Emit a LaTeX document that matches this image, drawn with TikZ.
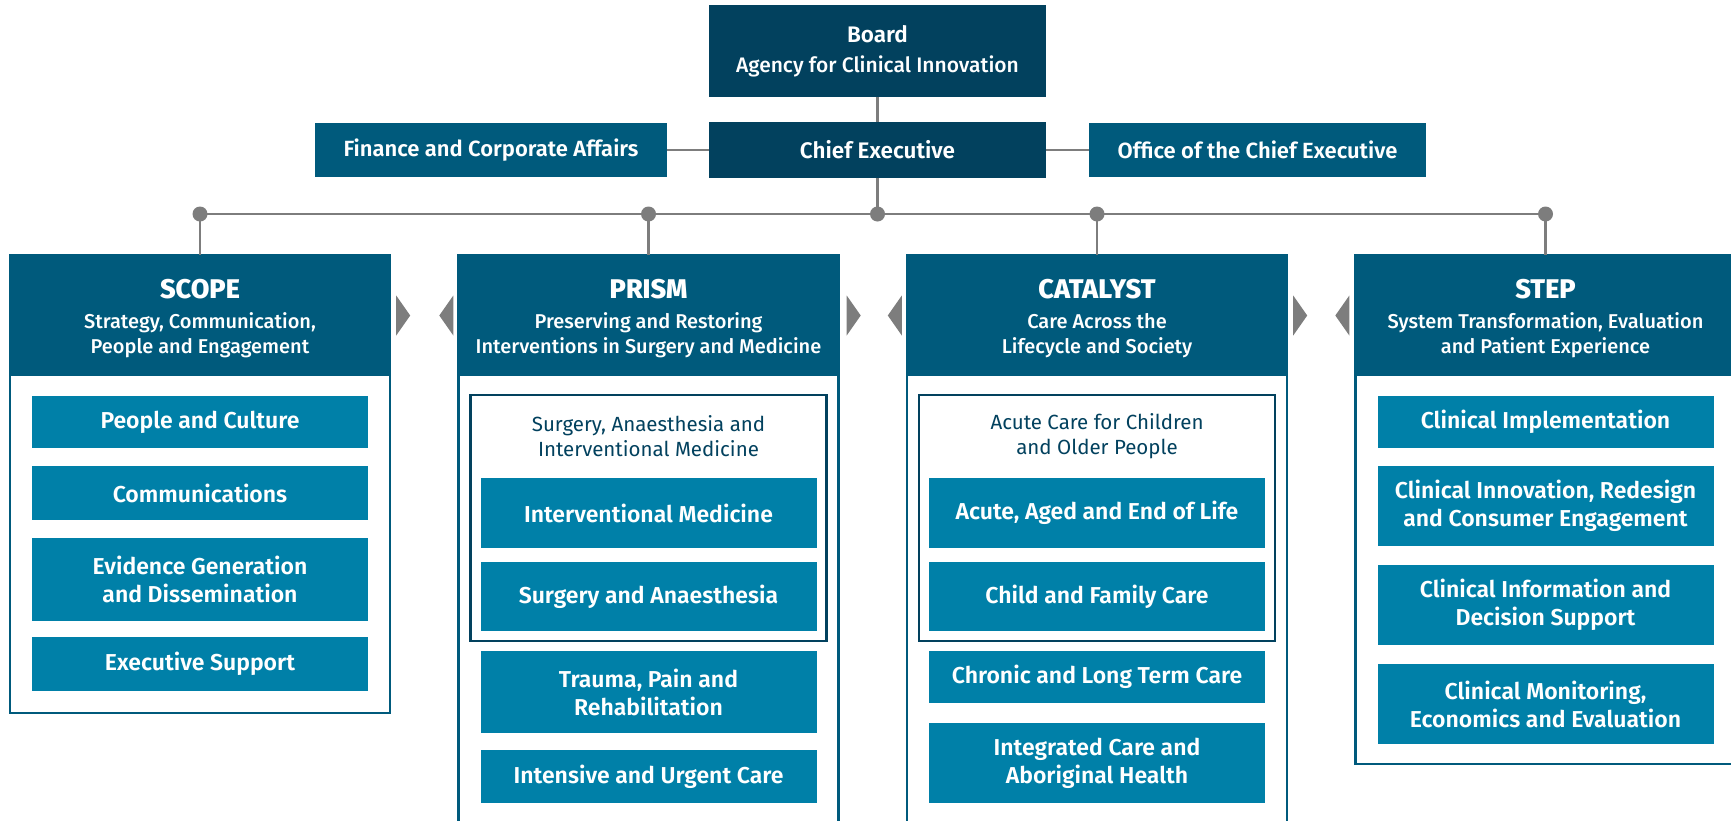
\documentclass[tikz,border=0pt]{standalone}
\usepackage{fontspec}
\setmainfont{Fira Sans}[BoldFont={Fira Sans SemiBold}]
\newfontfamily\medfont{Fira Sans Medium}
\usetikzlibrary{calc}

\definecolor{acinavy}{HTML}{02415E}
\definecolor{acihead}{HTML}{005A7C}
\definecolor{aciunit}{HTML}{0080A8}
\definecolor{acigrey}{HTML}{7D7D7D}

\begin{document}
\begin{tikzpicture}[x=1pt, y=-1pt,
  exec/.style={fill=acinavy, text=white, align=center, inner sep=0pt, minimum width=337},
  side/.style={fill=acihead, text=white, align=center, inner sep=0pt, minimum height=54,
    font=\bfseries\fontsize{22}{26}\selectfont},
  head/.style={fill=acihead, text=white, align=center, inner sep=0pt, minimum width=380,
    minimum height=121, font=\medfont\fontsize{20}{24.5}\selectfont},
  unit/.style={fill=aciunit, text=white, align=center, inner sep=0pt, minimum width=336,
    font=\bfseries\fontsize{23}{28}\selectfont},
  group/.style={draw=acinavy, line width=2.5pt, inner sep=0pt, minimum width=356, minimum height=246},
  gtitle/.style={text=acinavy, align=center, inner sep=0pt, font=\fontsize{20.5}{25}\selectfont},
  frame/.style={draw=acihead, line width=2.5pt},
  line/.style={draw=acigrey, line width=2.5pt},
  tri/.style={fill=acigrey}]
\useasboundingbox (0,0) rectangle (1731,820);
\clip (0,0) rectangle (1731,820);

\node[exec, minimum height=92] (board) at (877.5,51)
  {{\bfseries\fontsize{22.5}{26}\selectfont Board}\\[12pt]{\medfont\fontsize{21}{24}\selectfont Agency for Clinical Innovation}};
\node[exec, minimum height=56, font=\bfseries\fontsize{22.5}{26}\selectfont] (ceo) at (877.5,150) {Chief Executive};
\node[side, minimum width=352] (fin) at (491,150) {Finance and Corporate Affairs};
\node[side, minimum width=337] (office) at (1257.5,150) {Office of the Chief Executive};

\coordinate (b1) at (200,214);
\coordinate (b2) at (648.5,214);
\coordinate (b3) at (877.5,214);
\coordinate (b4) at (1097,214);
\coordinate (b5) at (1545.5,214);

% column frames
\draw[frame, fill=white] (10,255) rectangle (390,713);
\draw[frame, fill=white] (458.5,255) rectangle (838.5,840);
\draw[frame, fill=white] (907,255) rectangle (1287,840);
\draw[frame, fill=white] (1355.5,255) rectangle (1735.5,764);

\node[head] (scope) at (200,315.5)
  {{\bfseries\fontsize{27}{30}\selectfont\rule{0pt}{25pt}SCOPE}\\[6pt]Strategy, Communication,\\People and Engagement};
\node[head] (prism) at (648.5,315.5)
  {{\bfseries\fontsize{27}{30}\selectfont\rule{0pt}{25pt}PRISM}\\[6pt]Preserving and Restoring\\Interventions in Surgery and Medicine};
\node[head] (catalyst) at (1097,315.5)
  {{\bfseries\fontsize{27}{30}\selectfont\rule{0pt}{25pt}CATALYST}\\[6pt]Care Across the\\Lifecycle and Society};
\node[head] (step) at (1545.5,315.5)
  {{\bfseries\fontsize{27}{30}\selectfont\rule{0pt}{25pt}STEP}\\[6pt]System Transformation, Evaluation\\and Patient Experience};

\draw[line] (board) -- (ceo);
\draw[line] (fin) -- (ceo);
\draw[line] (ceo) -- (office);
\draw[line] (ceo) -- (b3);
\draw[line] (b1) -- (b5);
\draw[line] (b1) -- (scope);
\draw[line] (b2) -- (prism);
\draw[line] (b4) -- (catalyst);
\draw[line] (b5) -- (step);
\fill[acigrey] (b1) circle (7.5) (b2) circle (7.5) (b3) circle (7.5) (b4) circle (7.5) (b5) circle (7.5);

\fill[tri] ($(scope.east)+(6,-20)$) -- ++(14,20) -- ++(-14,20) -- cycle;
\fill[tri] ($(prism.west)+(-5,-20)$) -- ++(-14,20) -- ++(14,20) -- cycle;
\fill[tri] ($(prism.east)+(8,-20)$) -- ++(14,20) -- ++(-14,20) -- cycle;
\fill[tri] ($(catalyst.west)+(-5,-20)$) -- ++(-14,20) -- ++(14,20) -- cycle;
\fill[tri] ($(catalyst.east)+(6,-20)$) -- ++(14,20) -- ++(-14,20) -- cycle;
\fill[tri] ($(step.west)+(-6,-20)$) -- ++(-14,20) -- ++(14,20) -- cycle;

% SCOPE
\node[unit, minimum height=52] (culture) at (200,422) {People and Culture};
\node[unit, minimum height=54] (comms) at (200,493) {Communications};
\node[unit, minimum height=83] (evidence) at (200,579.5) {Evidence Generation\\and Dissemination};
\node[unit, minimum height=54] (support) at (200,664) {Executive Support};

% PRISM
\node[group] (saim) at (648.5,518) {};
\node[gtitle] (saimtitle) at (648.5,436) {Surgery, Anaesthesia and\\Interventional Medicine};
\node[unit, minimum height=70] (interv) at (648.5,513) {Interventional Medicine};
\node[unit, minimum height=69] (surgery) at (648.5,596.5) {Surgery and Anaesthesia};
\node[unit, minimum height=82] (trauma) at (648.5,692) {Trauma, Pain and\\Rehabilitation};
\node[unit, minimum height=53] (intensive) at (648.5,776.5) {Intensive and Urgent Care};

% CATALYST
\node[group] (acop) at (1097,518) {};
\node[gtitle] (acoptitle) at (1097,436) {Acute Care for Children\\and Older People};
\node[unit, minimum height=70] (acute) at (1097,513) {Acute, Aged and End of Life};
\node[unit, minimum height=69] (child) at (1097,596.5) {Child and Family Care};
\node[unit, minimum height=52] (chronic) at (1097,677) {Chronic and Long Term Care};
\node[unit, minimum height=80] (integrated) at (1097,763) {Integrated Care and\\Aboriginal Health};

% STEP
\node[unit, minimum height=52] (implement) at (1545.5,422) {Clinical Implementation};
\node[unit, minimum height=80] (redesign) at (1545.5,506) {Clinical Innovation, Redesign\\and Consumer Engagement};
\node[unit, minimum height=80] (decision) at (1545.5,605) {Clinical Information and\\Decision Support};
\node[unit, minimum height=80] (monitor) at (1545.5,704) {Clinical Monitoring,\\Economics and Evaluation};

\end{tikzpicture}
\end{document}
